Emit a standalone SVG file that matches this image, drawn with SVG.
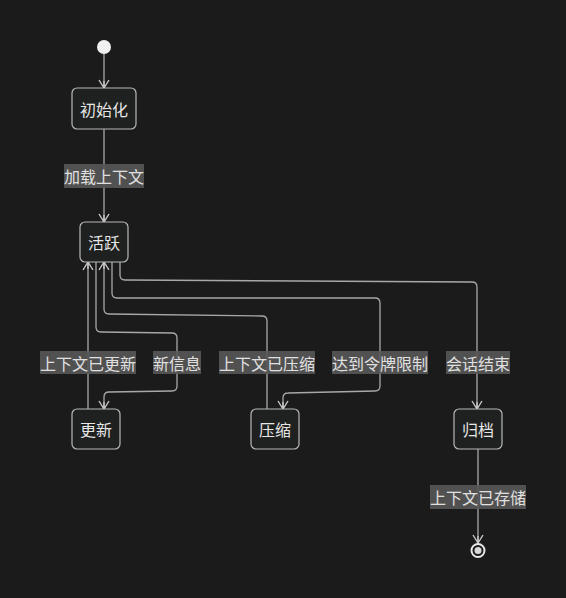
<svg xmlns="http://www.w3.org/2000/svg" width="566" height="598" viewBox="0 0 566 598">
<defs>
<style>
.node rect{fill:#1f2020;stroke:#b8b8b8;stroke-width:1.2}
.ntext{font-family:"Noto Sans CJK SC","Noto Sans",sans-serif;font-size:16px;fill:#e6e6e6;text-anchor:middle;dominant-baseline:central}
.edge{fill:none;stroke:#a8a8a8;stroke-width:1.3}
.lbl rect{fill:#585858;opacity:0.9}
.lbl text{font-family:"Noto Sans CJK SC","Noto Sans",sans-serif;font-size:16px;fill:#e0e0e0;text-anchor:middle;dominant-baseline:central}
</style>
<marker id="arr" markerUnits="userSpaceOnUse" viewBox="0 0 12 12" refX="11" refY="6" markerWidth="12" markerHeight="12" orient="auto">
<path d="M3,1 L11,6 L3,11 M11,6 L4,6" fill="none" stroke="#c8c8c8" stroke-width="1.4"/>
</marker>
</defs>
<rect width="566" height="598" fill="#1b1b1b"/>
<g id="connectors">
<path class="edge" d="M104,54 L104,88" marker-end="url(#arr)"/>
<path class="edge" d="M104,129 L104,222" marker-end="url(#arr)"/>
<path class="edge" d="M96,262 L96,327 Q96,332 101,332 L172,333 Q177,333 177,338 L177,386 Q177,391 172,391 L109,392 Q104,392 104,397 L104,409" marker-end="url(#arr)"/>
<path class="edge" d="M88,409 L88,262" marker-end="url(#arr)"/>
<path class="edge" d="M112,262 L112,293 Q112,298 117,298 L375,298 Q380,298 380,303 L380,386 Q380,391 375,391 L288,393 Q283,393 283,398 L283,409" marker-end="url(#arr)"/>
<path class="edge" d="M267,409 L267,321 Q267,316 262,316 L109,314 Q104,314 104,309 L104,262" marker-end="url(#arr)"/>
<path class="edge" d="M120,262 L120,275 Q120,280 125,280 L472,282 Q477,282 477,287 L477,409" marker-end="url(#arr)"/>
<path class="edge" d="M478,449 L478,543" marker-end="url(#arr)"/>
</g>
<g id="labels">
<g class="lbl"><rect x="64" y="164" width="80" height="24"/><text x="104" y="176">加载上下文</text></g>
<g class="lbl"><rect x="40" y="351" width="96" height="23"/><text x="88" y="362.5">上下文已更新</text></g>
<g class="lbl"><rect x="153" y="351" width="48" height="23"/><text x="177" y="362.5">新信息</text></g>
<g class="lbl"><rect x="219" y="351" width="96" height="23"/><text x="267" y="362.5">上下文已压缩</text></g>
<g class="lbl"><rect x="332" y="351" width="96" height="23"/><text x="380" y="362.5">达到令牌限制</text></g>
<g class="lbl"><rect x="446" y="351" width="64" height="23"/><text x="478" y="362.5">会话结束</text></g>
<g class="lbl"><rect x="430" y="485" width="96" height="24"/><text x="478" y="497">上下文已存储</text></g>
</g>
<g id="start"><circle cx="104" cy="47" r="7" fill="#f0f0f0"/></g>
<g id="init" class="node"><rect x="72" y="88" width="64" height="41" rx="5"/><text class="ntext" x="104" y="108.5">初始化</text></g>
<g id="active" class="node"><rect x="80" y="222" width="48" height="40" rx="5"/><text class="ntext" x="104" y="242">活跃</text></g>
<g id="update" class="node"><rect x="72" y="409" width="48" height="40" rx="5"/><text class="ntext" x="96" y="429">更新</text></g>
<g id="compress" class="node"><rect x="251" y="409" width="48" height="40" rx="5"/><text class="ntext" x="275" y="429">压缩</text></g>
<g id="archive" class="node"><rect x="454" y="409" width="48" height="40" rx="5"/><text class="ntext" x="478" y="429">归档</text></g>
<g id="end"><circle cx="478" cy="550.5" r="6.5" fill="#1b1b1b" stroke="#e8e8e8" stroke-width="2"/><circle cx="478" cy="550.5" r="3.5" fill="#d8d8d8"/></g>
</svg>
